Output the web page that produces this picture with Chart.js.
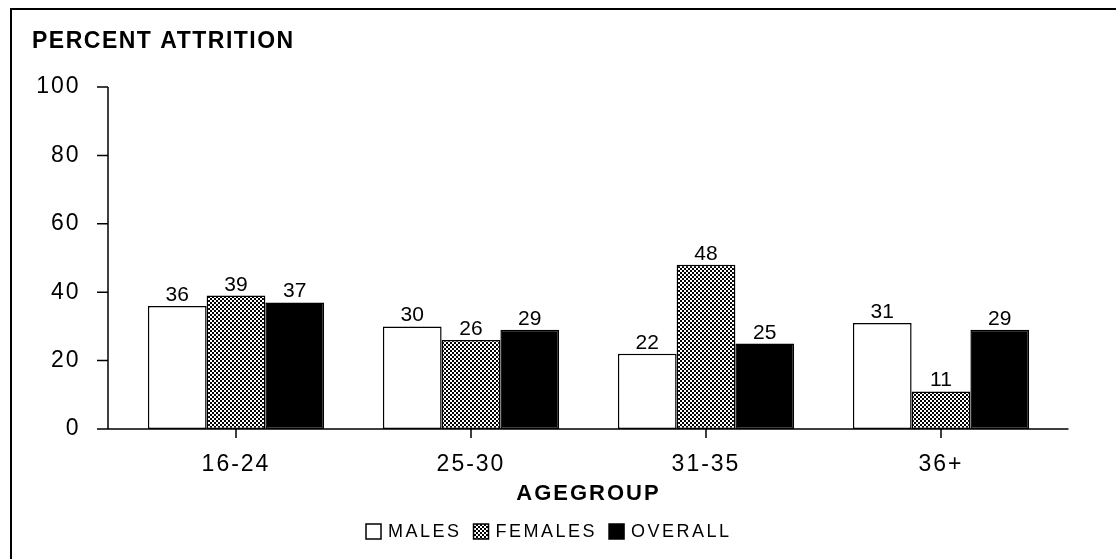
<!DOCTYPE html>
<html>
<head>
<meta charset="utf-8">
<script src="https://cdn.jsdelivr.net/npm/chart.js@4/dist/chart.umd.min.js"></script>
<style>
  html, body { margin: 0; padding: 0; background: #fff; }
  canvas { display: block; }
</style>
</head>
<body>
<canvas id="attrition" width="1116" height="559"></canvas>
<script>
var ageGroups = ["16-24", "25-30", "31-35", "36+"];
var males = [36, 30, 22, 31];
var females = [39, 26, 48, 11];
var overall = [37, 29, 25, 29];
var seriesNames = ["MALES", "FEMALES", "OVERALL"];
var yTicks = [0, 20, 40, 60, 80, 100];

var FONT = "'Liberation Sans', Arial, Helvetica, sans-serif";

// stippled gray fill for the females bars
function makeStipple() {
    var c = document.createElement("canvas");
    c.width = 4;
    c.height = 4;
    var g = c.getContext("2d");
    g.fillStyle = "#fff";
    g.fillRect(0, 0, 4, 4);
    g.fillStyle = "#000";
    g.fillRect(0, 0, 2, 2);
    g.fillRect(2, 2, 2, 2);
    return g.createPattern(c, "repeat");
}
var stipple = makeStipple();
var fills = ["#ffffff", stipple, "#000000"];

var decorations = {
    id: "decorations",
    beforeDraw: function(chart) {
        chart.ctx.letterSpacing = "2px";
    },
    afterDatasetsDraw: function(chart) {
        var ctx = chart.ctx;
        ctx.save();
        ctx.letterSpacing = "0px";
        ctx.font = "21px " + FONT;
        ctx.fillStyle = "#000";
        ctx.textAlign = "center";
        ctx.textBaseline = "alphabetic";
        chart.data.datasets.forEach(function(ds, i) {
            chart.getDatasetMeta(i).data.forEach(function(bar, j) {
                ctx.fillText(String(ds.data[j]), bar.x, bar.y - 5);
            });
        });
        ctx.restore();
    },
    afterDraw: function(chart) {
        var ctx = chart.ctx;
        var area = chart.chartArea;
        var xs = chart.scales.x;
        var ys = chart.scales.y;
        ctx.save();
        ctx.letterSpacing = "0px";
        ctx.strokeStyle = "#000";

        // outer frame (top and left edges only show in the picture)
        ctx.lineWidth = 2;
        ctx.beginPath();
        ctx.moveTo(11, 559);
        ctx.lineTo(11, 9);
        ctx.lineTo(1116, 9);
        ctx.stroke();

        // axes
        var axisX = area.left - 10.5;
        var top = ys.getPixelForValue(100);
        ctx.lineWidth = 1.5;
        ctx.beginPath();
        ctx.moveTo(axisX, top);
        ctx.lineTo(axisX, area.bottom);
        ctx.moveTo(axisX - 11, area.bottom);
        ctx.lineTo(area.right + 10, area.bottom);
        yTicks.forEach(function(v) {
            var py = ys.getPixelForValue(v);
            ctx.moveTo(axisX - 11, py);
            ctx.lineTo(axisX, py);
        });
        ageGroups.forEach(function(g, i) {
            var px = xs.getPixelForValue(i);
            ctx.moveTo(px, area.bottom);
            ctx.lineTo(px, area.bottom + 9);
        });
        ctx.stroke();

        // chart title
        ctx.fillStyle = "#000";
        ctx.letterSpacing = "1.5px";
        ctx.font = "bold 23px " + FONT;
        ctx.textAlign = "left";
        ctx.textBaseline = "middle";
        ctx.fillText("PERCENT ATTRITION", 32, 42);

        // legend
        ctx.font = "18px " + FONT;
        ctx.letterSpacing = "2.5px";
        var lx = 366;
        var ly = 531;
        seriesNames.forEach(function(name, i) {
            ctx.fillStyle = fills[i];
            ctx.fillRect(lx, ly - 7, 15, 15);
            ctx.lineWidth = 1.5;
            ctx.strokeRect(lx, ly - 7, 15, 15);
            ctx.fillStyle = "#000";
            ctx.fillText(name, lx + 22, ly + 1);
            lx += 22 + ctx.measureText(name).width + 12;
        });
        ctx.restore();
        ctx.letterSpacing = "0px";
    }
};

var datasets = [males, females, overall].map(function(values, i) {
    return {
        label: seriesNames[i],
        data: values,
        backgroundColor: fills[i],
        borderColor: "#000",
        borderWidth: 1.5,
        borderSkipped: false,
        categoryPercentage: 0.75,
        barPercentage: 1.0
    };
});

var chart = new Chart(document.getElementById("attrition").getContext("2d"), {
    type: "bar",
    data: {
        labels: ageGroups,
        datasets: datasets
    },
    plugins: [decorations],
    options: {
        responsive: false,
        animation: false,
        events: [],
        layout: {
            padding: { top: 87, right: 57.5, bottom: 40, left: 0 }
        },
        plugins: {
            legend: { display: false },
            title: { display: false },
            tooltip: { enabled: false }
        },
        scales: {
            x: {
                grid: { display: false, drawTicks: false },
                border: { display: false },
                ticks: {
                    color: "#000",
                    padding: 22,
                    font: { family: FONT, size: 23 }
                },
                title: {
                    display: true,
                    text: "AGEGROUP",
                    color: "#000",
                    padding: { top: 0, bottom: 12 },
                    font: { family: FONT, size: 22, weight: "bold" }
                },
                afterFit: function(scale) {
                    scale.height = 90;
                }
            },
            y: {
                min: 0,
                max: 100,
                grid: { display: false, drawTicks: false },
                border: { display: false },
                ticks: {
                    stepSize: 20,
                    color: "#000",
                    padding: 38,
                    font: { family: FONT, size: 23 }
                },
                afterFit: function(scale) {
                    scale.width = 118.5;
                }
            }
        }
    }
});
</script>
</body>
</html>
